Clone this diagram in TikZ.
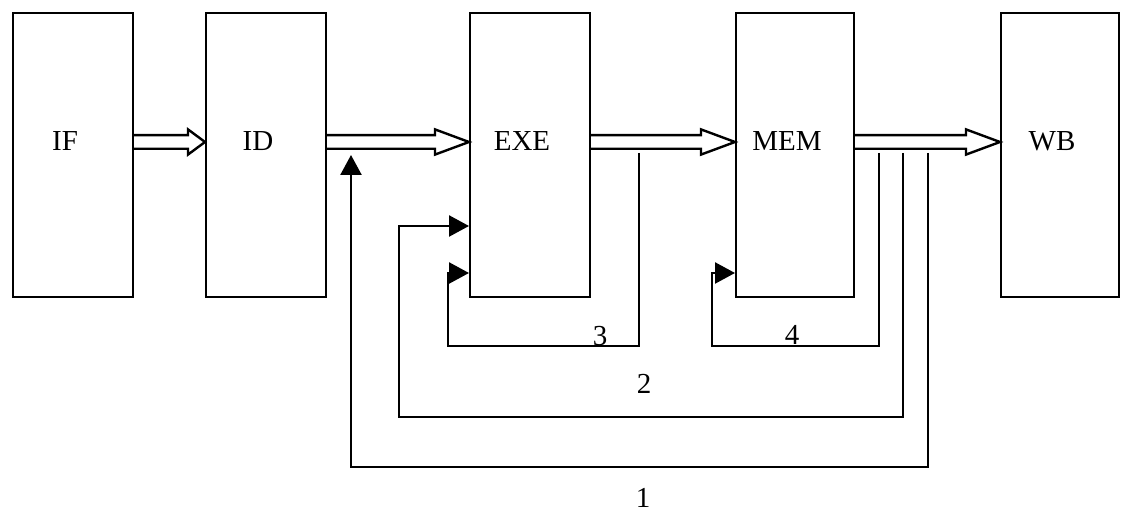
\documentclass[tikz,border=0pt]{standalone}
\usepackage{fontspec}
\setmainfont{Liberation Serif}
\usetikzlibrary{arrows.meta,positioning,calc}
\tikzset{
  stage/.style={draw, line width=1.2pt, minimum width=59.8pt, minimum height=142pt, inner sep=0pt},
  stagename/.style={font=\fontsize{14.5}{17}\selectfont, inner sep=0pt, xshift=-4pt, yshift=7pt},
  pipe/.style={line width=1.2pt, to path={let \p1=(\tikztostart), \p2=(\tikztotarget) in
    ({\x1},{\y1+3.4pt}) -- ({\x2-#1},{\y1+3.4pt}) -- ({\x2-#1},{\y1+6.3pt}) -- ({\x2},{\y1})
    -- ({\x2-#1},{\y1-6.3pt}) -- ({\x2-#1},{\y1-3.4pt}) -- ({\x1},{\y1-3.4pt})}},
  pipe/.default=17pt,
  feedback/.style={line width=1.2pt, -{Triangle[length=10pt,width=10.5pt]}},
  pathno/.style={font=\fontsize{14.5}{17}\selectfont, inner sep=0pt}
}

\begin{document}
\begin{tikzpicture}[x=0.5pt, y=-0.5pt, node distance=71pt]
    \useasboundingbox (0,0) rectangle (1121,512);

    \node[stage, label={[stagename]center:IF}] (if) at (73,155) {};
    \node[stage, right=35.5pt of if, label={[stagename]center:ID}] (id) {};
    \node[stage, right=71pt of id, label={[stagename]center:EXE}] (exe) {};
    \node[stage, right=72pt of exe, minimum width=58.8pt, label={[stagename]center:MEM}] (mem) {};
    \node[stage, right=72.5pt of mem, minimum width=58.8pt, label={[stagename]center:WB}] (wb) {};

    \draw[pipe=8.5pt] ([yshift=6.5pt]if.east) to ([yshift=6.5pt]id.west);
    \draw[pipe] ([yshift=6.5pt]id.east) to ([yshift=6.5pt]exe.west);
    \draw[pipe] ([yshift=6.5pt]exe.east) to ([yshift=6.5pt]mem.west);
    \draw[pipe] ([yshift=6.5pt]mem.east) to ([yshift=6.5pt]wb.west);

    \coordinate (tap3) at (639,153);
    \coordinate (tap4) at (879,153);
    \coordinate (tap2) at (903,153);
    \coordinate (tap1) at (928,153);
    \coordinate (fwd) at (351,155);

    \draw[feedback] (tap3) |- (448,346) |- ([yshift=-59pt]exe.west);
    \draw[feedback] (tap4) |- (712,346) |- ([yshift=-59pt]mem.west);
    \draw[feedback] (tap2) |- (399,417) |- ([yshift=-35.5pt]exe.west);
    \draw[feedback] (tap1) |- (351,467) -- (fwd);

    \node[pathno] (lab3) at (600,336) {3};
    \node[pathno] (lab4) at (792,335) {4};
    \node[pathno] (lab2) at (644,384) {2};
    \node[pathno] (lab1) at (643,498) {1};
  \end{tikzpicture}
\end{document}
